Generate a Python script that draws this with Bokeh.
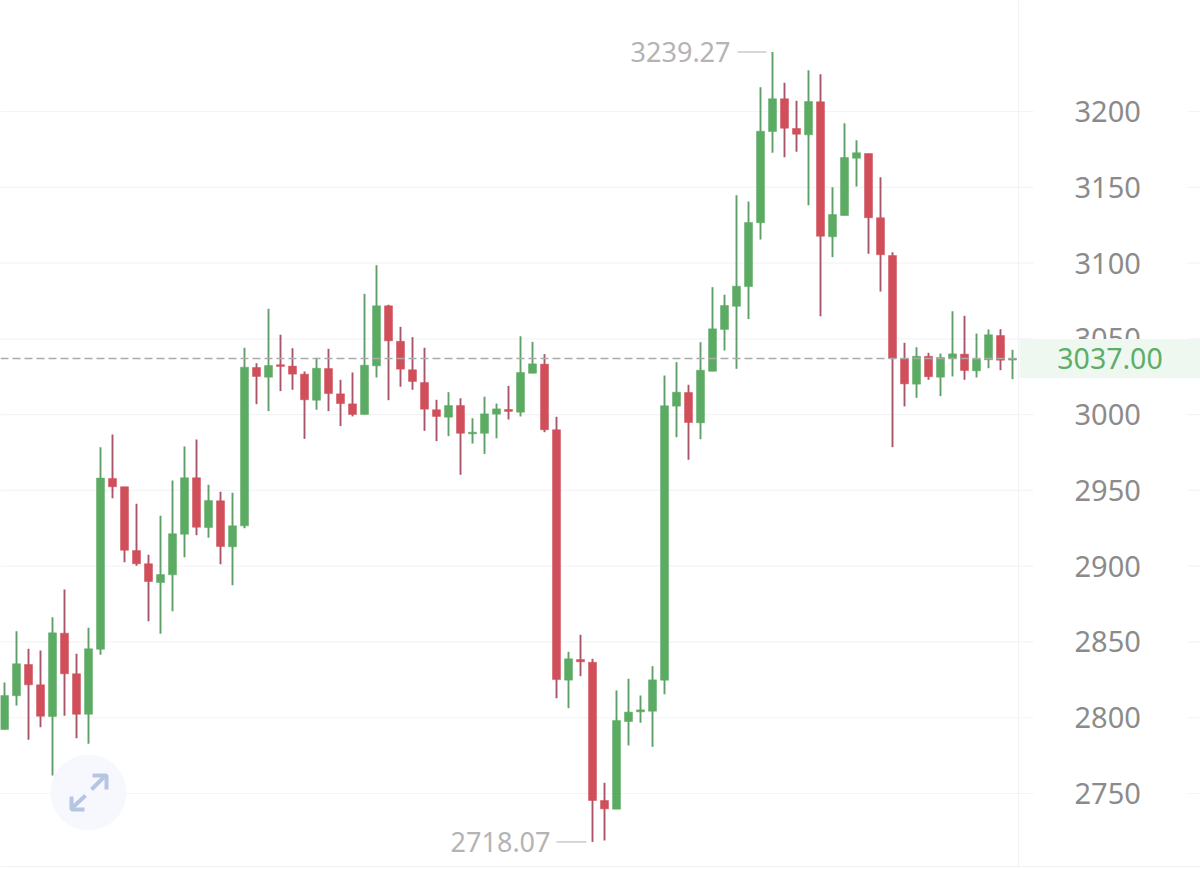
from bokeh.plotting import figure
from bokeh.embed import file_html
from bokeh.resources import INLINE
from bokeh.models import ColumnDataSource, LinearAxis, FixedTicker, BoxAnnotation, Label

# price data, one entry per candle (oldest first)
highs = [2823.3,2857.1,2845.5,2844.4,2866.3,2884.6,2842.2,2859.3,2978.5,2986.9,
         2952.4,2941.2,2907.5,2933.2,2956.5,2979.0,2983.6,2953.7,2949.1,2948.4,
         3044.1,3033.9,3069.8,3052.7,3043.8,3028.5,3037.5,3043.4,3023.0,3027.8,
         3079.7,3098.6,3072.5,3057.9,3051.1,3044.1,3009.8,3014.8,3010.8,2997.6,
         3011.8,3007.3,3019.0,3051.7,3048.0,3039.9,2998.6,2843.5,2854.7,2838.9,
         2757.1,2818.0,2825.7,2814.7,2834.0,3025.8,3034.6,3019.7,3047.8,3084.1,
         3079.1,3144.8,3140.6,3216.0,3239.27,3218.9,3207.1,3227.2,3224.6,3150.1,
         3192.3,3181.1,3172.3,3156.7,3107.2,3047.4,3044.5,3040.8,3040.3,3068.2,
         3065.2,3053.5,3056.2,3056.4,3042.8]
lows = [2792.2,2808.1,2785.4,2793.8,2761.9,2801.3,2786.5,2782.8,2841.5,2944.9,
        2902.6,2900.3,2863.7,2855.4,2870.3,2905.9,2920.4,2918.7,2901.3,2887.5,
        2925.1,3006.9,3002.3,3015.5,3016.4,2984.0,3003.2,3002.3,2992.4,2998.8,
        3000.1,3024.5,3009.5,3018.4,3016.4,2989.3,2982.5,2985.8,2960.3,2980.9,
        2974.1,2984.4,2996.8,2998.8,3027.3,2988.4,2812.9,2806.3,2827.4,2718.07,
        2719.0,2739.7,2781.7,2796.7,2780.8,2815.5,2985.1,2970.2,2983.8,3028.6,
        3042.3,3030.2,3063.0,3115.5,3172.8,3169.8,3173.4,3138.2,3064.9,3103.9,
        3131.4,3150.5,3106.1,3081.2,2978.5,3005.4,3011.1,3023.0,3012.2,3025.2,
        3023.0,3024.5,3030.6,3029.3,3023.4]
body_tops = [2814.7,2835.6,2835.1,2821.7,2856.0,2855.8,2829.0,2845.5,2958.1,2957.9,
             2952.4,2910.3,2901.6,2894.5,2921.4,2958.3,2958.3,2943.3,2943.1,2926.6,
             3031.3,3031.1,3032.4,3032.9,3032.0,3026.7,3030.6,3030.4,3013.7,3007.1,
             3032.6,3071.8,3071.8,3048.4,3029.6,3021.2,3003.2,3006.0,3006.0,2988.4,
             3000.5,3003.8,3003.4,3027.8,3033.5,3033.3,2990.0,2838.9,2838.4,2836.6,
             2745.4,2798.2,2803.7,2805.2,2825.0,3005.8,3014.8,3014.6,3029.3,3056.6,
             3072.0,3084.7,3126.8,3187.0,3208.4,3208.4,3188.8,3206.6,3206.4,3132.0,
             3169.6,3172.8,3172.3,3129.9,3105.0,3037.0,3038.5,3038.5,3037.7,3040.1,
             3039.9,3036.6,3052.7,3052.2,3037.0]
body_bottoms = [2792.2,2814.5,2821.7,2801.0,2800.8,2829.0,2802.3,2802.3,2845.2,2952.4,
                2910.5,2901.6,2889.9,2889.2,2894.3,2921.1,2925.7,2925.5,2913.0,2912.8,
                2926.6,3025.2,3024.7,3031.8,3026.7,3009.8,3009.5,3013.9,3007.3,3000.1,
                3000.1,3032.2,3048.7,3030.0,3021.9,3003.6,2998.8,2998.3,2987.7,2987.3,
                2987.7,3000.3,3002.1,3001.6,3027.3,2990.0,2825.2,2824.8,2836.9,2745.4,
                2739.9,2739.7,2797.5,2803.9,2804.3,2824.8,3005.6,2994.8,2994.6,3028.6,
                3056.2,3071.5,3084.5,3126.6,3186.8,3189.0,3185.0,3184.6,3117.7,3117.3,
                3131.4,3169.2,3129.9,3105.5,3037.2,3020.3,3020.1,3025.0,3024.7,3037.0,
                3029.1,3028.9,3036.2,3035.9,3036.0]
rising = [1,1,0,0,1,0,0,1,1,0, 0,0,0,1,1,1,0,1,0,1,
          1,0,1,0,0,0,1,0,0,0, 1,1,0,0,0,0,0,1,0,1,
          1,1,0,1,1,0,0,1,0,0, 0,1,1,1,1,1,1,0,1,1,
          1,1,1,1,1,0,0,1,0,1, 1,1,0,0,0,0,1,0,1,1,
          0,1,1,0,1]
y_ticks = [2750,2800,2850,2900,2950,3000,3050,3100,3150,3200]
last_price = 3037.00
high_label = "3239.27"
low_label = "2718.07"

GREEN, RED = "#5cab64", "#d04f5a"
GREEN_W, RED_W = "#5f9f69", "#a9566a"

W, H = 1200, 869
# scale: one candle = 12 px, 50 price units = 75.78 px
XS, YS = 12.0, 75.78 / 50
x0 = -4 / XS
y_top = 3200 + 111 / YS
y_bot = 3200 - (H - 111) / YS
px = lambda x: x0 + x / XS
py = lambda y: y_top - y / YS

idx = list(range(len(highs)))
src = ColumnDataSource(dict(
    x=idx, h=highs, l=lows, t=body_tops, b=body_bottoms,
    c=[GREEN if r else RED for r in rising],
    w=[GREEN_W if r else RED_W for r in rising]))

p = figure(width=W, height=H, output_backend="svg", toolbar_location=None,
           x_range=(x0, x0 + W / XS), y_range=(y_bot, y_top),
           min_border=0, outline_line_color=None, background_fill_color="white",
           border_fill_color="white", x_axis_location=None, y_axis_location=None)
p.xgrid.visible = False
p.ygrid.visible = False

# horizontal gridlines
for t in y_ticks:
    p.segment(x0, t, x0 + W / XS, t, line_color="#f3f4f6", line_width=1.2)

# white gap behind the axis labels
p.quad(left=px(1033), right=px(1187), top=y_top, bottom=y_bot, fill_color="white", line_color=None)

# axis divider and bottom rule
p.segment(px(1018), y_top, px(1018), py(866), line_color="#f1f2f3", line_width=1.2)
p.segment(x0, py(866), x0 + W / XS, py(866), line_color="#f1f2f3", line_width=1.2)

# expand icon
p.scatter([px(88)], [py(792)], size=76, marker="circle", fill_color="#f6f8fd", line_color=None)
icon_c = "#b6c5e2"
p.multi_line(
    xs=[[px(91), px(105)], [px(92), px(106), px(106)], [px(85), px(71)], [px(84), px(71), px(71)]],
    ys=[[py(789), py(775)], [py(775), py(775), py(789)], [py(795), py(808)], [py(809), py(809), py(796)]],
    line_color=icon_c, line_width=4)

# candles
p.segment(x0="x", y0="l", x1="x", y1="h", source=src, line_color="w", line_width=1.9)
p.vbar(x="x", width=8 / XS, top="t", bottom="b", source=src, fill_color="c", line_color="c", line_width=0.5)

# last-price dashed line
p.segment(x0, last_price, px(1018), last_price, line_color="#aaaaaa", line_width=1.6, line_dash="8 4")

# y axis
ax = LinearAxis(fixed_location=px(1058), ticker=FixedTicker(ticks=y_ticks),
                axis_line_color=None, major_tick_line_color=None, minor_tick_line_color=None,
                major_label_text_font="Noto Sans", major_label_text_font_size="29px",
                major_label_text_color="#8b8b8b", major_label_standoff=10)
p.add_layout(ax, "right")

# last-price tag
band_h = 19.5 / YS
tag = BoxAnnotation(left=px(1019), right=px(1200), top=last_price + band_h, bottom=last_price - band_h,
                    fill_color="#eff8f0", fill_alpha=1, line_color=None, level="annotation")
p.add_layout(tag)

# value labels
p.add_layout(Label(x=px(1109.5), y=last_price, text=f"{last_price:.2f}", text_align="center",
                   text_baseline="middle", text_font="Noto Sans", text_font_size="28.5px",
                   text_color="#5dae68", level="annotation"))
p.add_layout(Label(x=px(730), y=max(highs), text=high_label, text_align="right",
                   text_baseline="middle", text_font="Noto Sans", text_font_size="27px",
                   text_color="#b4b4b4"))
p.add_layout(Label(x=px(550), y=min(lows), text=low_label, text_align="right",
                   text_baseline="middle", text_font="Noto Sans", text_font_size="27px",
                   text_color="#b4b4b4"))
p.segment(px(737), max(highs), px(766), max(highs), line_color="#c9c9c9", line_width=1.5)
p.segment(px(556), min(lows), px(586), min(lows), line_color="#c9c9c9", line_width=1.5)

open("out.html", "w").write(file_html(p, INLINE))
